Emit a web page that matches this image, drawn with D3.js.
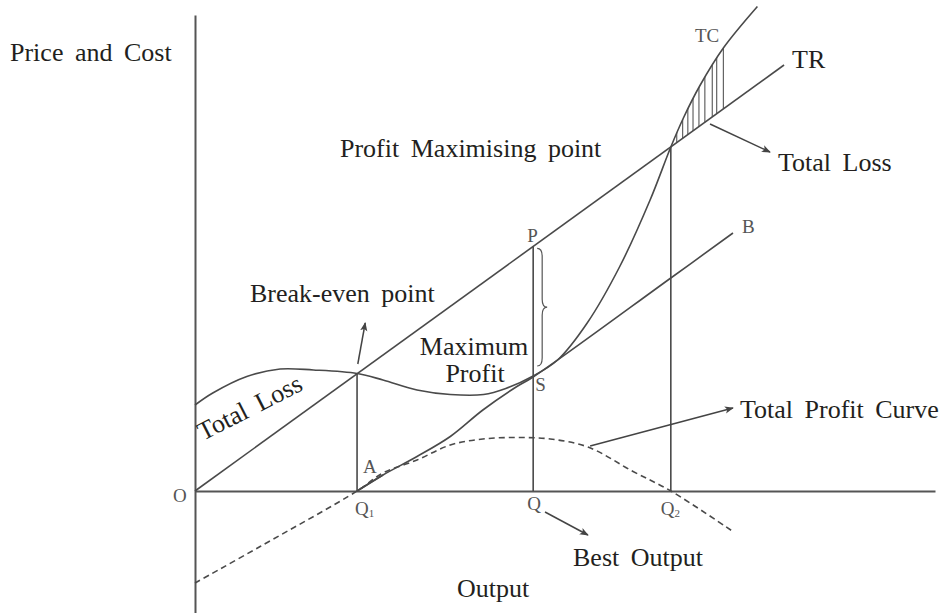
<!DOCTYPE html>
<html>
<head>
<meta charset="utf-8">
<script src="https://cdn.jsdelivr.net/npm/d3@7"></script>
<style>
  body { margin: 0; background: #fff; }
  svg { display: block; font-family: "Liberation Serif", "Times New Roman", serif; }
  .curve { fill: none; stroke: #4a4a4a; stroke-width: 1.6; }
  .big { font-size: 26px; fill: #231f20; word-spacing: 5px; }
  .small { font-size: 19px; fill: #555; }
</style>
</head>
<body>
<script>
// Break-even / profit maximising diagram (TR, TC, total profit curve)

// --- data (output units on x, price/cost units on y) ---
var q1 = 21.9;      // break-even output
var qBest = 45.7;   // best output
var q2 = 64.3;      // second break-even output

var trEnd = [79.6, 85.2];   // TR is a straight line from the origin

var tcPoints = [
  [0, 17.2], [2.4, 19.6], [7, 22.9], [11.5, 24.4], [16, 24.2], [21.9, 23.5],
  [25.4, 22.2], [30, 20.2], [34.5, 19.3], [39, 19.3], [42, 20.5], [45.7, 23],
  [49, 26.2], [53, 33.6], [57.4, 44.9], [61.5, 58.2], [64.3, 68.8], [66, 74.6],
  [68.2, 81.0], [71.4, 88.6], [76, 96.9]
];

var bPoints = [
  [21.9, 0], [25.4, 3.2], [30, 6.9], [34.5, 10.9], [38.9, 16.2], [43.5, 20.9],
  [45.7, 22.8], [64.3, 42.6], [72.7, 51.6]
];

var profitPoints = [
  [0, -18.4], [8.8, -11.1], [21.9, 0], [25.4, 3.6], [30, 6.2], [34.5, 9.2],
  [38.9, 10.4], [43.5, 10.7], [48, 10.4], [53.1, 8.8], [59.2, 3.9], [64.3, 0],
  [72.7, -8.1]
];

// vertical hatching of the loss area beyond Q2
var hatchX = [65.1, 65.9, 66.6, 67.3, 68.1, 68.9, 69.9, 70.5, 71.4];

// annotation arrows [from, to]
var arrows = [
  [[22.0, 25.4], [23.0, 33.6]],   // break-even point
  [[69.6, 73.4], [77.7, 67.8]],   // total loss
  [[53.4, 9.0], [72.7, 16.6]],    // total profit curve
  [[47.3, -4.2], [53.1, -8.8]]    // best output
];

var width = 944, height = 613;

var x = d3.scaleLinear().domain([0, 100]).range([195, 935]);
var y = d3.scaleLinear().domain([-24.4, 95.2]).range([613, 15]);

function tr(v) { return v * trEnd[1] / trEnd[0]; }

var svg = d3.select("body").append("svg")
    .attr("width", width)
    .attr("height", height);

var defs = svg.append("defs");
defs.append("marker")
    .attr("id", "arrow")
    .attr("viewBox", "0 0 10 10")
    .attr("refX", 9)
    .attr("refY", 5)
    .attr("markerWidth", 9)
    .attr("markerHeight", 9)
    .attr("markerUnits", "userSpaceOnUse")
    .attr("orient", "auto")
  .append("path")
    .attr("d", "M0,1 L10,5 L0,9 L2.5,5 Z")
    .attr("fill", "#444");

// axes: plain lines, no ticks
var xAxis = d3.axisBottom(x).tickValues([]).tickSizeOuter(0);
var yAxis = d3.axisLeft(y).tickValues([]).tickSizeOuter(0);

svg.append("g")
    .attr("transform", "translate(0," + y(0) + ")")
    .call(xAxis)
    .select(".domain").attr("stroke", "#555").attr("stroke-width", 2);

svg.append("g")
    .attr("transform", "translate(" + x(0) + ",0)")
    .call(yAxis)
    .select(".domain").attr("stroke", "#555").attr("stroke-width", 2);

var line = d3.line()
    .x(function(d) { return x(d[0]); })
    .y(function(d) { return y(d[1]); });

// hatched loss area between TC and TR
var lossPts = tcPoints.filter(function(d) { return d[0] >= q2; });
var lossArea = d3.area()
    .x(function(d) { return x(d[0]); })
    .y0(function(d) { return y(tr(d[0])); })
    .y1(function(d) { return y(d[1]); })
    .curve(d3.curveCatmullRom);

defs.append("clipPath")
    .attr("id", "clip")
  .append("path")
    .attr("d", lossArea(lossPts));

svg.append("g")
    .attr("clip-path", "url(#clip)")
  .selectAll("line")
  .data(hatchX)
  .enter().append("line")
    .attr("x1", function(d) { return x(d); })
    .attr("x2", function(d) { return x(d); })
    .attr("y1", y(0))
    .attr("y2", y(100))
    .attr("stroke", "#555")
    .attr("stroke-width", 1.1);

// vertical drop lines at Q1, Q, Q2
svg.selectAll(".drop")
  .data([q1, qBest, q2])
  .enter().append("line")
    .attr("class", "drop")
    .attr("x1", function(d) { return x(d); })
    .attr("x2", function(d) { return x(d); })
    .attr("y1", y(0))
    .attr("y2", function(d) { return y(tr(d)); })
    .attr("stroke", "#4a4a4a")
    .attr("stroke-width", 1.6);

// TR
svg.append("path")
    .attr("class", "curve")
    .attr("d", line([[0, 0], trEnd]));

// TC
svg.append("path")
    .attr("class", "curve")
    .attr("d", line.curve(d3.curveCatmullRom)(tcPoints));

// line B (tangent to TC at S)
svg.append("path")
    .attr("class", "curve")
    .attr("d", line.curve(d3.curveCatmullRom)(bPoints));

// total profit curve
svg.append("path")
    .attr("class", "curve")
    .attr("stroke-dasharray", "6,4")
    .attr("d", line.curve(d3.curveCatmullRom)(profitPoints));

// short bold bit at A
svg.append("path")
    .attr("class", "curve")
    .attr("stroke-width", 2.4)
    .attr("d", line.curve(d3.curveLinear)(bPoints.slice(0, 2)));

// brace between P and S
var bx = x(qBest) + 4,
    by0 = y(tr(qBest)) + 2,
    by1 = y(23) - 10,
    bm = (by0 + by1) / 2,
    bw = 10, bq = 8;
svg.append("path")
    .attr("fill", "none")
    .attr("stroke", "#555")
    .attr("stroke-width", 1.2)
    .attr("d",
      "M" + bx + "," + by0 +
      " Q" + (bx + bw / 2) + "," + by0 + " " + (bx + bw / 2) + "," + (by0 + bq) +
      " L" + (bx + bw / 2) + "," + (bm - bq) +
      " Q" + (bx + bw / 2) + "," + bm + " " + (bx + bw) + "," + bm +
      " Q" + (bx + bw / 2) + "," + bm + " " + (bx + bw / 2) + "," + (bm + bq) +
      " L" + (bx + bw / 2) + "," + (by1 - bq) +
      " Q" + (bx + bw / 2) + "," + by1 + " " + bx + "," + by1);

// arrows
svg.selectAll(".arrow")
  .data(arrows)
  .enter().append("line")
    .attr("class", "arrow")
    .attr("x1", function(d) { return x(d[0][0]); })
    .attr("y1", function(d) { return y(d[0][1]); })
    .attr("x2", function(d) { return x(d[1][0]); })
    .attr("y2", function(d) { return y(d[1][1]); })
    .attr("stroke", "#444")
    .attr("stroke-width", 1.5)
    .attr("marker-end", "url(#arrow)");

// --- labels ---
function label(cls, txt, px, py, anchor) {
  return svg.append("text")
      .attr("class", cls)
      .attr("x", px)
      .attr("y", py)
      .attr("text-anchor", anchor || "start")
      .text(txt);
}

label("big", "Price and Cost", 10, 61);
label("big", "Output", 457, 597);
label("big", "TR", x(trEnd[0]) + 8, y(trEnd[1]) + 3);
label("small", "TC", 695, 42);
label("big", "Total Loss", 778, 171);
label("big", "Profit Maximising point", 340, 157);
label("big", "Break-even point", 250, 302);
label("big", "Maximum", 474, 355, "middle");
label("big", "Profit", 475, 382, "middle");
label("big", "Total Profit Curve", 740, 418);
label("big", "Best Output", 573, 566);

label("small", "P", x(qBest) - 6, y(tr(qBest)) - 4);
label("small", "S", x(qBest) + 2, y(23) + 15);
label("small", "B", x(bPoints[bPoints.length - 1][0]) + 9, y(bPoints[bPoints.length - 1][1]));
label("small", "O", x(0) - 22, y(0) + 11);
label("small", "A", x(q1) + 6, y(0) - 18);
label("small", "Q", x(qBest) - 6, y(0) + 19);

function qSub(v, sub, dx) {
  var t = label("small", "Q", x(v) + dx, y(0) + 24);
  t.append("tspan")
      .attr("font-size", "11px")
      .attr("dy", 2)
      .text(sub);
}
qSub(q1, "1", -2);
qSub(q2, "2", -10);

svg.append("text")
    .attr("class", "big")
    .attr("transform", "translate(203,441) rotate(-27)")
    .text("Total Loss");
</script>
</body>
</html>
